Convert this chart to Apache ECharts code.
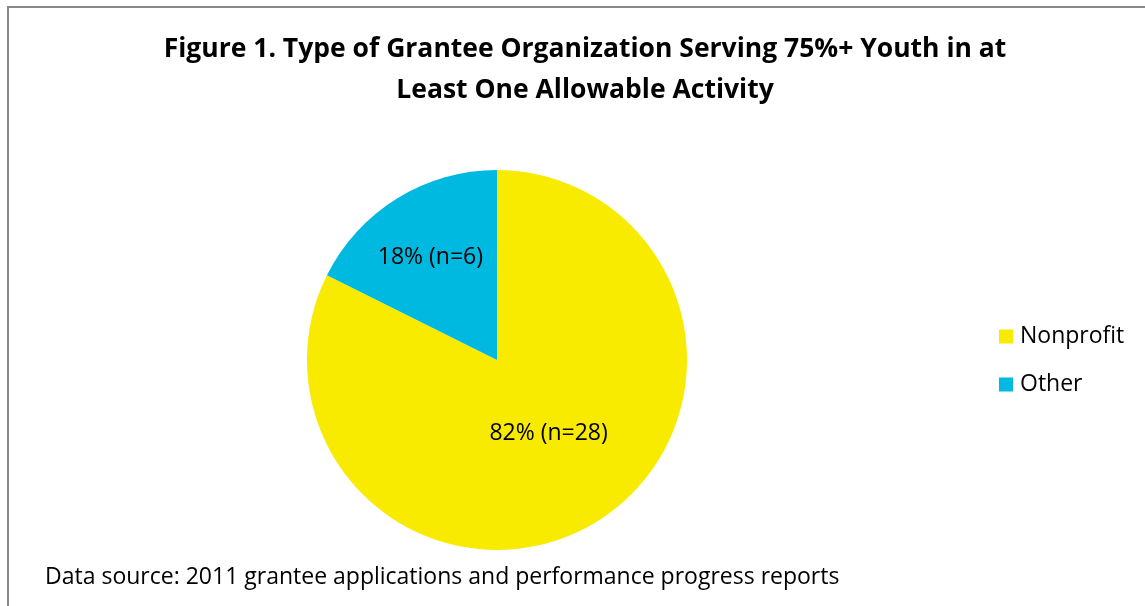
<!DOCTYPE html>
<html>
<head>
<meta charset="utf-8">
<script src="https://cdn.jsdelivr.net/npm/echarts@6/dist/echarts.min.js"></script>
<style>
    html, body { margin: 0; padding: 0; background: #fff; }
    #chart { width: 1145px; height: 606px; }
</style>
</head>
<body>
<div id="chart"></div>
<script>
const categories = ['Nonprofit', 'Other'];
const counts = [28, 6];
const percents = [82, 18];
const sliceColors = ['#f8eb00', '#00b9e1'];

const fontFamily = '"Open Sans", Lato, sans-serif';
const chart = echarts.init(document.getElementById('chart'));

// label nudges so they sit where Excel puts them
const labelOffsets = [[0, -10], [-15, -19]];

const pieData = categories.map(function(name, i) {
    return {
        name: name,
        value: counts[i],
        itemStyle: {color: sliceColors[i]},
        label: {offset: labelOffsets[i]}
    };
});

const option = {
    animation: false,
    title: [
        {
            text: 'Figure 1. Type of Grantee Organization Serving 75%+ Youth in at\nLeast One Allowable Activity',
            left: 580,
            top: 24,
            textAlign: 'center',
            textStyle: {
                fontFamily: fontFamily,
                fontSize: 26.5,
                fontWeight: 'bold',
                color: '#000',
                lineHeight: 41
            }
        },
        {
            text: 'Data source: 2011 grantee applications and performance progress reports',
            left: 45,
            top: 566,
            padding: 0,
            textStyle: {
                fontFamily: fontFamily,
                fontSize: 23,
                fontWeight: 'normal',
                color: '#000'
            }
        }
    ],
    legend: {
        orient: 'vertical',
        left: 994,
        top: 320,
        itemWidth: 14,
        itemHeight: 14,
        itemGap: 25,
        icon: 'rect',
        data: categories,
        textStyle: {
            fontFamily: fontFamily,
            fontSize: 23,
            color: '#000',
            padding: [0, 0, 0, 2]
        }
    },
    graphic: [
        {
            type: 'rect',
            shape: {x: 8, y: 7, width: 1300, height: 800},
            style: {fill: 'none', stroke: '#878787', lineWidth: 2},
            silent: true
        }
    ],
    series: [
        {
            type: 'pie',
            center: [497, 360],
            radius: [0, 190],
            startAngle: 90,
            clockwise: true,
            label: {
                show: true,
                position: 'inside',
                fontFamily: fontFamily,
                fontSize: 23,
                color: '#000',
                formatter: function(p) {
                    return percents[p.dataIndex] + '% (n=' + counts[p.dataIndex] + ')';
                }
            },
            labelLine: {show: false},
            emphasis: {disabled: true},
            itemStyle: {borderWidth: 0},
            data: pieData
        }
    ]
};

chart.setOption(option);
</script>
</body>
</html>
